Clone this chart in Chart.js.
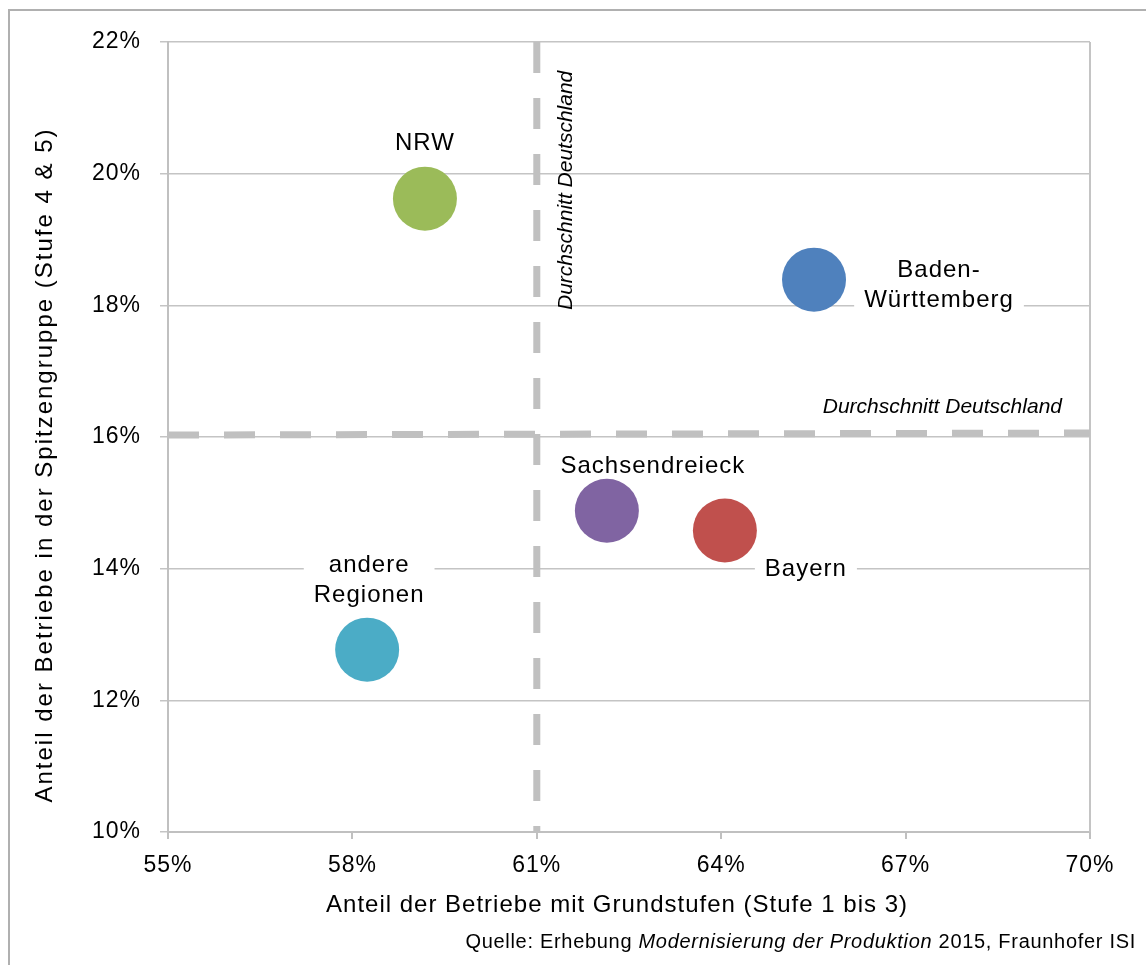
<!DOCTYPE html>
<html><head><meta charset="utf-8">
<script src="https://cdn.jsdelivr.net/npm/chart.js@4"></script>
<style>html,body{margin:0;padding:0;background:#fff;} canvas{display:block}</style>
</head><body>
<canvas id="c" width="1146" height="965"></canvas>
<script>
// ---- data ----
const regions = ['NRW', 'Baden-Württemberg', 'Sachsendreieck', 'Bayern', 'andere Regionen'];
const regionLabelLines = [['NRW'], ['Baden-', 'Württemberg'], ['Sachsendreieck'], ['Bayern'], ['andere', 'Regionen']];
const grundstufen = [59.18, 65.51, 62.14, 64.06, 58.24];     // x, %
const spitzengruppe = [19.62, 18.39, 14.88, 14.58, 12.77];   // y, %
const avgGrundstufen = 61.0;                // Durchschnitt Deutschland (x)
const avgSpitzengruppe = [16.03, 16.06];    // Durchschnitt Deutschland (y) at left / right end
const xTickValues = [55, 58, 61, 64, 67, 70];
const yTickValues = [10, 12, 14, 16, 18, 20, 22];
const avgLabel = 'Durchschnitt Deutschland';
const xTitle = 'Anteil der Betriebe mit Grundstufen (Stufe 1 bis 3)';
const yTitle = 'Anteil der Betriebe in der Spitzengruppe (Stufe 4 & 5)';
const sourceParts = ['Quelle: Erhebung ', 'Modernisierung der Produktion', ' 2015, Fraunhofer ISI'];

// ---- style ----
const colors = ['#9BBB59', '#4F81BD', '#8064A2', '#C0504D', '#4BACC6'];
const FONT = '"Liberation Sans", Arial, sans-serif';
const labelStyle = [
  {dx: 0, base: [-49]},
  {dx: 125, base: [-3, 27]},
  {dx: 46, base: [-38]},
  {dx: 81, base: [46]},
  {dx: 2, base: [-78, -48]}
];
const titleShift = {x: [-12, 0], y: [0, 28]};
const titleSpacing = {x: '1px', y: '2px'};

Chart.defaults.font.family = FONT;
Chart.defaults.color = '#000';

function patchTitle(scale, id) {
  if (!scale || scale._lsPatched) return;
  const orig = scale.drawTitle;
  scale.drawTitle = function () {
    const c = this.ctx; const prev = c.letterSpacing;
    c.save();
    c.translate(titleShift[id][0], titleShift[id][1]);
    c.letterSpacing = titleSpacing[id];
    orig.call(this);
    c.restore();
    c.letterSpacing = prev;
  };
  scale._lsPatched = true;
}

const decor = {
  id: 'decor',
  afterUpdate(chart) {
    patchTitle(chart.scales.x, 'x');
    patchTitle(chart.scales.y, 'y');
  },
  beforeDraw(chart) {
    const ctx = chart.ctx;
    ctx.letterSpacing = '1px';
    ctx.save();
    ctx.fillStyle = '#fff';
    ctx.fillRect(0, 0, chart.width, chart.height);
    ctx.strokeStyle = '#b0b0b0';
    ctx.lineWidth = 2;
    ctx.strokeRect(9, 10, 1400, 1400);
    ctx.restore();
  },
  beforeDatasetsDraw(chart) {
    const ctx = chart.ctx, a = chart.chartArea;
    const xs = chart.scales.x, ys = chart.scales.y;
    ctx.save();
    // plot frame right
    ctx.strokeStyle = '#c4c4c4';
    ctx.lineWidth = 2;
    ctx.beginPath();
    ctx.moveTo(a.right, a.top); ctx.lineTo(a.right, a.bottom);
    ctx.stroke();
    // region labels with white boxes
    ctx.font = '24px ' + FONT;
    ctx.letterSpacing = '1px';
    ctx.textAlign = 'center';
    ctx.textBaseline = 'alphabetic';
    regions.forEach((r, i) => {
      const px = xs.getPixelForValue(grundstufen[i]);
      const py = ys.getPixelForValue(spitzengruppe[i]);
      const st = labelStyle[i];
      const lines = regionLabelLines[i];
      const cx = px + st.dx;
      let w = 0;
      lines.forEach(l => { w = Math.max(w, ctx.measureText(l).width); });
      const top = py + st.base[0] - 20;
      const bot = py + st.base[st.base.length - 1] + 7;
      ctx.fillStyle = '#fff';
      ctx.fillRect(cx - w / 2 - 10, top, w + 20, bot - top);
      ctx.fillStyle = '#000';
      lines.forEach((l, k) => ctx.fillText(l, cx, py + st.base[k]));
    });
    // average labels
    ctx.font = 'italic 21px ' + FONT;
    ctx.letterSpacing = '0px';
    ctx.fillStyle = '#000';
    ctx.textAlign = 'right';
    ctx.fillText(avgLabel, a.right - 28, ys.getPixelForValue(avgSpitzengruppe[1]) - 20);
    ctx.save();
    ctx.translate(xs.getPixelForValue(avgGrundstufen) + 35, a.top + 268);
    ctx.rotate(-Math.PI / 2);
    ctx.textAlign = 'left';
    ctx.fillText(avgLabel, 0, 0);
    ctx.restore();
    ctx.restore();
  },
  afterDraw(chart) {
    const ctx = chart.ctx;
    ctx.save();
    ctx.letterSpacing = '0.7px';
    ctx.textBaseline = 'alphabetic';
    ctx.textAlign = 'left';
    ctx.fillStyle = '#000';
    const fonts = ['20px ' + FONT, 'italic 20px ' + FONT, '20px ' + FONT];
    let widths = sourceParts.map((s, i) => { ctx.font = fonts[i]; return ctx.measureText(s).width; });
    let x = 1136 - widths.reduce((p, c) => p + c, 0);
    sourceParts.forEach((s, i) => { ctx.font = fonts[i]; ctx.fillText(s, x, 948); x += widths[i]; });
    ctx.restore();
  }
};

new Chart(document.getElementById('c'), {
  type: 'bubble',
  data: {
    datasets: [
      {
        type: 'bubble',
        label: 'Regionen',
        data: grundstufen.map((x, i) => ({x: x, y: spitzengruppe[i], r: 32})),
        backgroundColor: colors,
        borderWidth: 0,
        order: 1
      },
      {
        type: 'line',
        label: avgLabel + ' (x)',
        data: [{x: avgGrundstufen, y: yTickValues[yTickValues.length - 1]}, {x: avgGrundstufen, y: yTickValues[0]}],
        borderColor: '#c0c0c0',
        borderWidth: 7,
        borderDash: [31, 25],
        borderCapStyle: 'butt',
        pointRadius: 0,
        fill: false,
        order: 2
      },
      {
        type: 'line',
        label: avgLabel + ' (y)',
        data: [{x: xTickValues[0], y: avgSpitzengruppe[0]}, {x: xTickValues[xTickValues.length - 1], y: avgSpitzengruppe[1]}],
        borderColor: '#c0c0c0',
        borderWidth: 7,
        borderDash: [31, 25],
        borderCapStyle: 'butt',
        pointRadius: 0,
        fill: false,
        order: 2
      }
    ]
  },
  options: {
    responsive: false,
    animation: false,
    devicePixelRatio: 1,
    layout: {padding: {left: 0, top: 42, right: 56, bottom: 0}},
    plugins: {legend: {display: false}, tooltip: {enabled: false}},
    scales: {
      x: {
        type: 'linear',
        min: xTickValues[0], max: xTickValues[xTickValues.length - 1],
        afterBuildTicks(s) { s.ticks = xTickValues.map(v => ({value: v})); },
        afterFit(s) { s.height = 133; },
        ticks: {font: {size: 23}, padding: 13, callback: v => v + '%'},
        grid: {display: true, drawOnChartArea: false, drawTicks: true, tickLength: 7, color: '#c0c0c0', lineWidth: 2},
        border: {display: true, color: '#c0c0c0', width: 2},
        title: {display: true, text: xTitle, font: {size: 24, lineHeight: 1}, padding: {top: 0, bottom: 48}}
      },
      y: {
        type: 'linear',
        min: yTickValues[0], max: yTickValues[yTickValues.length - 1],
        afterBuildTicks(s) { s.ticks = yTickValues.map(v => ({value: v})); },
        afterFit(s) { s.width = 168; },
        ticks: {font: {size: 23}, padding: 19, callback: v => v + '%'},
        grid: {display: true, drawOnChartArea: true, drawTicks: true, tickLength: 8, color: '#c4c4c4', lineWidth: 1.5},
        border: {display: true, color: '#c0c0c0', width: 2},
        title: {display: true, text: yTitle, font: {size: 24, lineHeight: 1}, padding: {top: 33, bottom: 0}}
      }
    }
  },
  plugins: [decor]
});
</script>
</body></html>
